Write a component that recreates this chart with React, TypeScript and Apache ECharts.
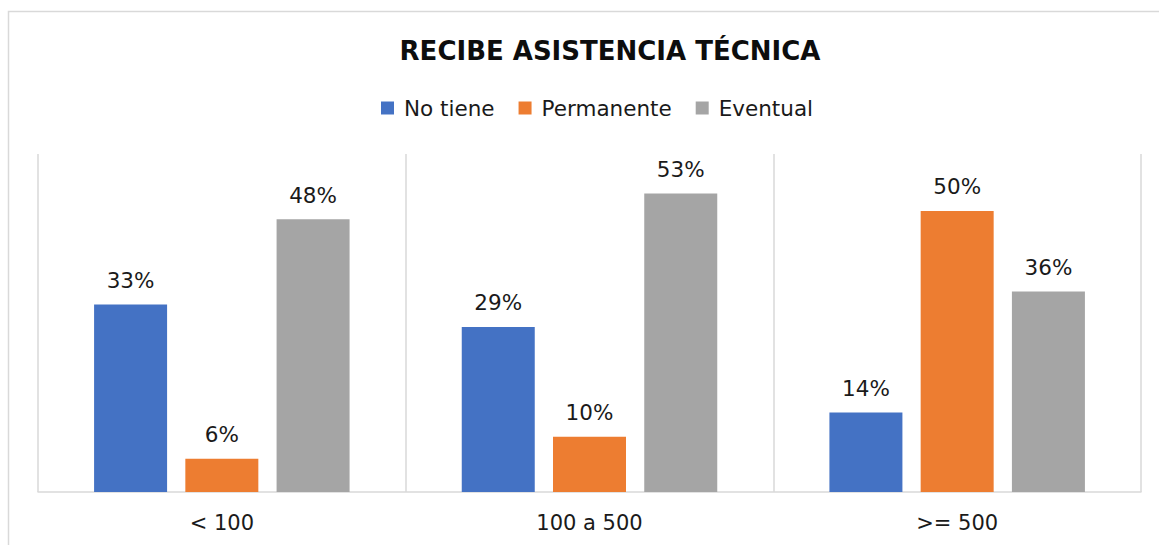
import React, { useEffect, useRef } from "react";
import * as echarts from "echarts";

const categories = ["< 100", "100 a 500", ">= 500"];
const seriesNames = ["No tiene", "Permanente", "Eventual"];
const noTiene = [33.3, 29.3, 14.1];
const permanente = [5.9, 9.8, 49.9];
const eventual = [48.4, 53.0, 35.6];
const colors = ["#4472C4", "#ED7D31", "#A5A5A5"];
const titleText = "RECIBE ASISTENCIA TÉCNICA";

export default function App() {
  const ref = useRef<HTMLDivElement>(null);
  useEffect(() => {
    if (!ref.current) return;
    const chart = echarts.init(ref.current, null, { renderer: "svg" });
    const values = [noTiene, permanente, eventual];
    chart.setOption({
      animation: false,
      backgroundColor: "#ffffff",
      title: {
        text: titleText,
        left: 605,
        textAlign: "center",
        top: 33,
        textStyle: {
          fontFamily: "DejaVu Sans",
          fontWeight: "bold",
          fontSize: 26,
          color: "#0d0d0d",
        },
      },
      legend: {
        data: seriesNames,
        left: 376,
        top: 92,
        itemWidth: 13,
        itemHeight: 13,
        itemGap: 24,
        icon: "rect",
        textStyle: {
          fontFamily: "DejaVu Sans",
          fontSize: 21.5,
          color: "#1a1a1a",
          padding: [0, 0, 0, 5],
        },
      },
      graphic: [
        {
          type: "rect",
          shape: { x: 8.5, y: 11.5, width: 1200, height: 600 },
          style: { fill: "none", stroke: "#d9d9d9", lineWidth: 1.5 },
          silent: true,
          z: -1,
        },
      ],
      grid: { left: 38, right: 18, top: 154, bottom: 53 },
      xAxis: {
        type: "category",
        data: categories,
        axisTick: { show: false },
        axisLine: { lineStyle: { color: "#d9d9d9", width: 1.5 } },
        splitLine: { show: true, lineStyle: { color: "#d9d9d9", width: 1.5 } },
        axisLabel: {
          fontFamily: "DejaVu Sans",
          fontSize: 21,
          color: "#1a1a1a",
          margin: 20,
        },
      },
      yAxis: {
        type: "value",
        min: 0,
        max: 60,
        show: false,
        splitLine: { show: false },
      },
      series: seriesNames.map((name, i) => ({
        name,
        type: "bar",
        data: values[i],
        barWidth: 73,
        barGap: "25%",
        itemStyle: { color: colors[i] },
        label: {
          show: true,
          position: "top",
          distance: 13,
          fontFamily: "DejaVu Sans",
          fontSize: 21.5,
          color: "#1a1a1a",
          formatter: (p: any) => Math.round(p.value) + "%",
        },
      })),
    });
    return () => chart.dispose();
  }, []);
  return (
    <div
      ref={ref}
      style={{ position: "fixed", left: 0, top: 0, width: 1159, height: 545 }}
    />
  );
}
